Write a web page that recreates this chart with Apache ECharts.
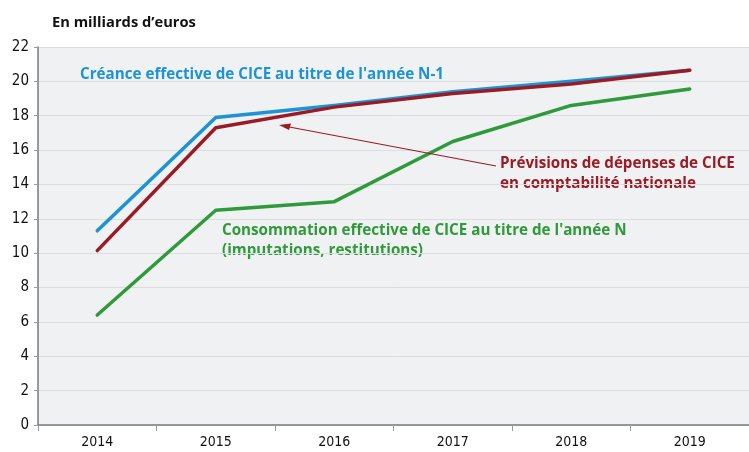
<!DOCTYPE html>
<html><head><meta charset="utf-8">
<script src="https://cdn.jsdelivr.net/npm/echarts@6/dist/echarts.min.js"></script>
<style>html,body{margin:0;padding:0;background:#fff}#c{width:749px;height:452px}</style>
</head><body><div id="c"></div>
<script>
const categories = ['2014','2015','2016','2017','2018','2019'];
const creanceN1 = [11.3, 17.9, 18.6, 19.4, 20.0, 20.65];
const previsions = [10.15, 17.3, 18.5, 19.3, 19.85, 20.65];
const consommation = [6.4, 12.5, 13.0, 16.5, 18.6, 19.55];
const yTicks = [0,2,4,6,8,10,12,14,16,18,20,22];

const chart = echarts.init(document.getElementById('c'));
const fontBold = '"Open Sans", "Noto Sans", sans-serif';
const narrow = '"Liberation Sans Narrow", "DejaVu Sans Condensed", "Roboto", sans-serif';
chart.setOption({
  animation: false,
  grid: {left: 38, top: 47, width: 720, bottom: 27, show: true, backgroundColor: '#f0f1f3', borderWidth: 0},
  xAxis: {
    type: 'category', data: categories, boundaryGap: true,
    axisLine: {lineStyle: {color: '#7a7a7a', width: 1.5}},
    axisTick: {show: true, length: 6, lineStyle: {color: '#9a9a9a'}},
    axisLabel: {color: '#111', fontSize: 14, fontFamily: narrow, margin: 10}
  },
  yAxis: {
    type: 'value', min: 0, max: 22, interval: 2,
    axisLine: {show: true, lineStyle: {color: '#7a7a7a', width: 1.5}},
    axisTick: {show: true, length: 4, lineStyle: {color: '#9a9a9a'}},
    axisLabel: {color: '#111', fontSize: 15, fontFamily: narrow, margin: 9,
      formatter: v => yTicks.includes(v) ? String(v) : ''},
    splitLine: {lineStyle: {color: '#dcdde0', width: 1}}
  },
  series: [
    {name: 'Consommation', type: 'line', data: consommation, symbol: 'none',
     lineStyle: {color: '#2e9a3a', width: 3.5, cap: 'round', join: 'round'}, z: 2},
    {name: 'Créance', type: 'line', data: creanceN1, symbol: 'none',
     lineStyle: {color: '#1b93d6', width: 3.5, cap: 'round', join: 'round'}, z: 3},
    {name: 'Prévisions', type: 'line', data: previsions, symbol: 'none',
     lineStyle: {color: '#9b1b24', width: 3.5, cap: 'round', join: 'round'}, z: 4}
  ],
  graphic: [
    {type: 'text', left: 52, top: 15, style: {text: 'En milliards d’euros', fill: '#111', font: 'bold 14.7px ' + fontBold}},
    {type: 'text', left: 80, top: 67, style: {text: "Créance effective de CICE au titre de l'année N-1", fill: '#1b93d6', font: 'bold 15.2px ' + fontBold}},
    {type: 'text', left: 500, top: 154, style: {text: 'Prévisions de dépenses de CICE\nen comptabilité nationale', fill: '#9b1b24', font: 'bold 15.2px ' + fontBold, lineHeight: 19.5}},
    {type: 'text', left: 222, top: 221, style: {text: "Consommation effective de CICE au titre de l'année N\n(imputations, restitutions)", fill: '#2e9a3a', font: 'bold 15.2px ' + fontBold, lineHeight: 20}},
    {type: 'line', shape: {x1: 496, y1: 166, x2: 284, y2: 126}, style: {stroke: '#9b1b24', lineWidth: 1.2}, z: 10},
    {type: 'polygon', shape: {points: [[279, 125], [291, 123.5], [289, 130]]}, style: {fill: '#9b1b24'}, z: 10}
  ]
});
</script></body></html>
